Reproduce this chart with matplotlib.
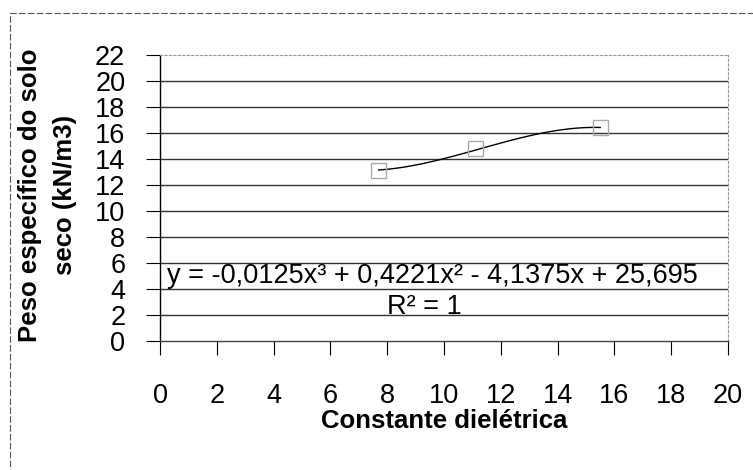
import numpy as np
import matplotlib
matplotlib.use("Agg")
import matplotlib.pyplot as plt
from matplotlib.patches import Rectangle

plt.rcParams['font.family'] = ['Liberation Sans', 'DejaVu Sans']

# measured points (constante dieletrica vs peso especifico)
x_pts = [7.7, 11.1, 15.5]
y_pts = [13.1, 14.8, 16.4]

# trendline coefficients as printed on the chart
coefs = [-0.0125, 0.4221, -4.1375, 25.695]
eq_text = "y = -0,0125x³ + 0,4221x² - 4,1375x + 25,695"
r2_text = "R² = 1"

x_ticks = list(range(0, 21, 2))
y_ticks = list(range(0, 23, 2))

fig = plt.figure(figsize=(7.53, 4.70), dpi=100)
ax = fig.add_axes([160/753, 1 - 341/470, (728-160)/753, (341-55)/470])

# outer frame (only top/left visible in the original)
fig.patches.append(Rectangle((10/753, -0.1), 1.2, (470-13)/470 + 0.1,
                             transform=fig.transFigure, fill=False,
                             edgecolor='#555555', lw=0.8, ls=(0, (6, 2))))

for yv in y_ticks[1:-1]:
    ax.axhline(yv, color='#333333', lw=1.0, zorder=1)

xs = np.linspace(min(x_pts), max(x_pts), 100)
ax.plot(xs, np.polyval(coefs, xs), color='black', lw=1.0, zorder=3)
ax.scatter(x_pts, y_pts, marker='s', s=120, facecolor='none',
           edgecolor='#aaaaaa', lw=1.0, zorder=4)

ax.set_xlim(0, 20)
ax.set_ylim(0, 22)
ax.set_xticks(x_ticks)
ax.set_yticks(y_ticks)
ax.tick_params(axis='x', direction='out', length=10, pad=20, labelsize=19.5, width=0.8)
ax.tick_params(axis='y', direction='out', length=10, pad=15, labelsize=19.5, width=0.8)

for s in ['top', 'right']:
    ax.spines[s].set_color('#999999')
    ax.spines[s].set_linestyle((0, (2, 2)))
    ax.spines[s].set_linewidth(0.8)
ax.spines['left'].set_linewidth(1.0)
ax.spines['bottom'].set_linewidth(1.0)
ax.spines['bottom'].set_color('#444444')

ax.text(9.6, 5.0, eq_text, ha='center', va='center', fontsize=19.5,
        zorder=5)
ax.text(9.3, 2.6, r2_text, ha='center', va='center', fontsize=19.5, zorder=5)

ax.set_xlabel("Constante dielétrica", fontsize=18.5, fontweight='bold', labelpad=0)
fig.text(30/753, 1 - 195/470, "Peso específico do solo", rotation=90,
         ha='center', va='center', fontsize=18.5, fontweight='bold')
fig.text(65/753, 1 - 195/470, "seco (kN/m3)", rotation=90,
         ha='center', va='center', fontsize=18.5, fontweight='bold')

fig.savefig("out.png", dpi=100)
